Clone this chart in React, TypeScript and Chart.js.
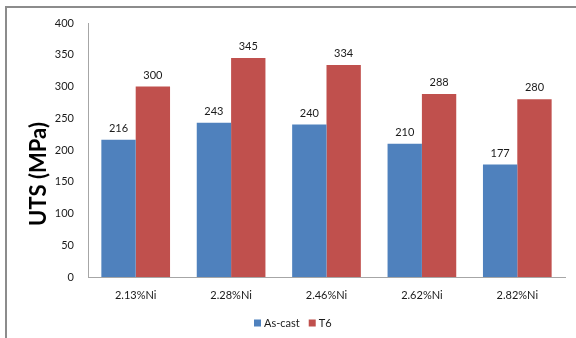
import React, { useEffect, useRef } from "react";
import { Chart, registerables } from "chart.js";

Chart.register(...registerables);

const categories = ["2.13%Ni", "2.28%Ni", "2.46%Ni", "2.62%Ni", "2.82%Ni"];
const asCast = [216, 243, 240, 210, 177];
const t6 = [300, 345, 334, 288, 280];
const yTicks = [0, 50, 100, 150, 200, 250, 300, 350, 400];

const FONT = "Lato, 'Open Sans', sans-serif";

// Frame, value labels above bars, rotated axis title and the legend row.
const decorations = {
  id: "decorations",
  beforeDraw(chart: any) {
    const { ctx } = chart;
    ctx.save();
    ctx.fillStyle = "#ffffff";
    ctx.fillRect(0, 0, chart.width, chart.height);
    ctx.strokeStyle = "#8c8c8c";
    ctx.lineWidth = 2;
    ctx.beginPath();
    ctx.moveTo(6, chart.height);
    ctx.lineTo(6, 7);
    ctx.lineTo(chart.width, 7);
    ctx.stroke();
    ctx.restore();
  },
  afterDatasetsDraw(chart: any) {
    const { ctx } = chart;
    ctx.save();
    ctx.font = `11px ${FONT}`;
    ctx.fillStyle = "#1a1a1a";
    ctx.textAlign = "center";
    ctx.textBaseline = "bottom";
    chart.data.datasets.forEach((ds: any, i: number) => {
      const meta = chart.getDatasetMeta(i);
      meta.data.forEach((bar: any, j: number) => {
        ctx.fillText(String(ds.data[j]), bar.x, bar.y - 6);
      });
    });

    // legend
    ctx.textAlign = "left";
    ctx.textBaseline = "middle";
    ctx.font = `11px ${FONT}`;
    let x = 254;
    const y = 323;
    chart.data.datasets.forEach((ds: any) => {
      ctx.fillStyle = ds.backgroundColor;
      ctx.fillRect(x, y - 3.5, 7, 7);
      x += 10;
      ctx.fillStyle = "#1a1a1a";
      ctx.fillText(ds.label, x, y);
      x += ctx.measureText(ds.label).width + 9;
    });

    // axis title
    ctx.translate(39, 174);
    ctx.rotate(-Math.PI / 2);
    ctx.font = `bold 22px ${FONT}`;
    ctx.fillStyle = "#000";
    ctx.textAlign = "center";
    ctx.textBaseline = "middle";
    ctx.fillText("UTS (MPa)", 0, 0);
    ctx.restore();
  },
};

export default function App() {
  const ref = useRef<HTMLCanvasElement>(null);
  useEffect(() => {
    if (!ref.current) return;
    const chart = new Chart(ref.current, {
      type: "bar",
      data: {
        labels: categories,
        datasets: [
          { label: "As-cast", data: asCast, backgroundColor: "#4F81BD", borderWidth: 0 },
          { label: "T6", data: t6, backgroundColor: "#C0504D", borderWidth: 0 },
        ],
      },
      options: {
        animation: false,
        responsive: false,
        maintainAspectRatio: false,
        layout: { padding: { left: 0, top: 23, right: 11, bottom: 31 } },
        datasets: { bar: { categoryPercentage: 0.72, barPercentage: 1 } },
        plugins: {
          legend: { display: false },
          tooltip: { enabled: false },
        },
        scales: {
          x: {
            grid: { display: false, drawTicks: false },
            border: { color: "#a6a6a6", width: 1 },
            ticks: { color: "#1a1a1a", font: { family: FONT, size: 11 }, padding: 12 },
            afterFit(scale: any) {
              scale.height = 30;
            },
          },
          y: {
            min: 0,
            max: 400,
            afterBuildTicks(scale: any) {
              scale.ticks = yTicks.map((v) => ({ value: v }));
            },
            grid: { display: false, drawTicks: false },
            border: { color: "#a6a6a6", width: 1 },
            ticks: { color: "#1a1a1a", font: { family: FONT, size: 11 }, padding: 14 },
            afterFit(scale: any) {
              scale.width = 88;
            },
          },
        },
      },
      plugins: [decorations],
    });
    return () => chart.destroy();
  }, []);
  return (
    <div style={{ position: "absolute", left: 0, top: 0, width: 576, height: 338 }}>
      <canvas ref={ref} width={576} height={338} />
    </div>
  );
}
